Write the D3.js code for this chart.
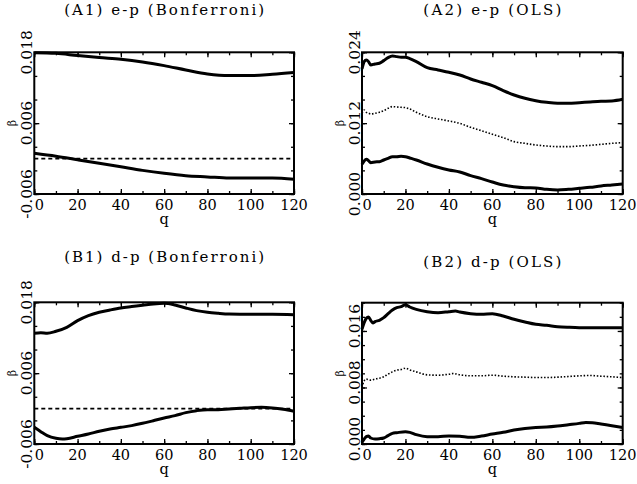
<!DOCTYPE html>
<html>
<head>
<meta charset="utf-8">
<script src="https://cdn.jsdelivr.net/npm/d3@7"></script>
<style>
body { margin: 0; background: #fff; }
svg { display: block; }
text { font-family: "DejaVu Serif", "Liberation Serif", serif; fill: #000; }
</style>
</head>
<body>
<svg id="chart" width="637" height="484"></svg>
<script>
// x ticks, shared by all four panels
var xMajor = [0, 20, 40, 60, 80, 100, 120];

// (A1) e-p Bonferroni
var qA1 = [0, 10, 20, 30, 40, 50, 60, 70, 80, 90, 100, 110, 120];
var a1Upper = [0.01794, 0.01783, 0.01744, 0.0171, 0.01681, 0.01636, 0.01574, 0.01501, 0.01433, 0.01405, 0.01405, 0.01427, 0.01456];
var a1Lower = [0.0009, 0.0004, -0.0002, -0.0008, -0.0014, -0.0020, -0.0025, -0.0029, -0.0031, -0.0033, -0.0033, -0.0033, -0.0035];
var yMajorA1 = [-0.006, 0.006, 0.018];

// (A2) e-p OLS
var qA2 = [0, 1, 2, 3, 4, 6, 8, 10, 12, 14, 16, 18, 20, 22, 25, 30, 35, 40, 45, 50, 55, 60, 65, 70, 75, 80, 85, 90, 95, 100, 105, 110, 115, 120];
var a2Upper = [0.02118, 0.02242, 0.0227, 0.02242, 0.02185, 0.02202, 0.02214, 0.02259, 0.0231, 0.02338, 0.02327, 0.02315, 0.02315, 0.02293, 0.02242, 0.0214, 0.02101, 0.02062, 0.02016, 0.01948, 0.01892, 0.01835, 0.0175, 0.01677, 0.01621, 0.01581, 0.01553, 0.01536, 0.01536, 0.01547, 0.01559, 0.0157, 0.01576, 0.01604];
var a2Mid = [0.01367, 0.01423, 0.01384, 0.0137, 0.01355, 0.01367, 0.01384, 0.01412, 0.01451, 0.0148, 0.01474, 0.01468, 0.01463, 0.0144, 0.01384, 0.0131, 0.01271, 0.01237, 0.01197, 0.01129, 0.01073, 0.01011, 0.00954, 0.00887, 0.00858, 0.0083, 0.00813, 0.00802, 0.00802, 0.00813, 0.00824, 0.00841, 0.00858, 0.0087];
var a2Lower = [0.00503, 0.00559, 0.00587, 0.00565, 0.00531, 0.00542, 0.00548, 0.00576, 0.00604, 0.00632, 0.00632, 0.00638, 0.00632, 0.0061, 0.00576, 0.00508, 0.00452, 0.00407, 0.00373, 0.00311, 0.0026, 0.00203, 0.00152, 0.00124, 0.00107, 0.00102, 0.00079, 0.00068, 0.00079, 0.00096, 0.00113, 0.00136, 0.00152, 0.00169];
var yMajorA2 = [0, 0.012, 0.024];

// (B1) d-p Bonferroni
var qB1Up = [0, 3, 6, 10, 15, 20, 25, 30, 35, 40, 45, 50, 55, 60, 65, 70, 75, 80, 85, 90, 100, 110, 120];
var b1Upper = [0.01275, 0.01286, 0.01275, 0.01309, 0.01376, 0.01489, 0.01574, 0.01631, 0.0167, 0.01704, 0.01727, 0.01749, 0.01772, 0.01783, 0.01755, 0.01704, 0.01659, 0.01631, 0.01614, 0.01602, 0.01597, 0.01597, 0.01591];
var qB1Low = [0, 3, 6, 10, 13, 15, 20, 25, 30, 35, 40, 45, 50, 55, 60, 65, 70, 75, 80, 85, 90, 95, 100, 105, 110, 115, 120];
var b1Lower = [-0.00318, -0.00391, -0.00459, -0.00504, -0.00515, -0.0051, -0.0047, -0.00431, -0.00385, -0.00346, -0.00318, -0.00289, -0.0025, -0.00205, -0.0016, -0.0012, -0.00069, -0.00035, -0.00018, -0.00018, -0.00007, 0.00004, 0.00016, 0.00021, 0.0001, -0.00013, -0.00047];
var yMajorB1 = [-0.006, 0.006, 0.018];

// (B2) d-p OLS
var qB2Up = [0, 1, 2, 3, 4, 5, 6, 8, 10, 12, 14, 16, 18, 20, 22, 25, 30, 35, 40, 43, 45, 50, 55, 60, 65, 70, 75, 80, 85, 90, 95, 100, 110, 120];
var b2Upper = [0.01624, 0.01718, 0.01779, 0.01798, 0.01751, 0.01713, 0.01732, 0.01751, 0.01788, 0.01845, 0.01896, 0.01929, 0.01944, 0.01972, 0.01939, 0.01906, 0.01873, 0.01859, 0.01873, 0.01882, 0.01868, 0.01845, 0.01835, 0.01845, 0.01812, 0.01765, 0.01727, 0.01694, 0.0168, 0.01661, 0.01652, 0.01647, 0.01647, 0.01647];
var qB2Mid = [0, 1, 2, 4, 6, 8, 10, 12, 14, 16, 18, 20, 22, 25, 30, 35, 40, 42, 45, 50, 55, 60, 65, 70, 75, 80, 85, 90, 95, 100, 105, 110, 115, 120];
var b2Mid = [0.008, 0.00894, 0.00918, 0.00904, 0.00918, 0.00932, 0.00951, 0.00988, 0.01021, 0.01045, 0.01054, 0.01073, 0.01049, 0.01021, 0.00979, 0.00974, 0.00988, 0.00998, 0.00979, 0.00965, 0.00965, 0.00974, 0.0096, 0.00951, 0.00946, 0.00941, 0.00941, 0.00946, 0.00955, 0.00965, 0.00969, 0.0096, 0.00951, 0.00941];
var qB2Low = [0, 1, 2, 3, 4, 6, 8, 10, 12, 14, 16, 20, 22, 25, 30, 35, 40, 45, 50, 55, 60, 65, 70, 75, 80, 85, 90, 95, 100, 103, 106, 110, 115, 120];
var b2Lower = [0.00024, 0.00071, 0.00104, 0.00113, 0.00085, 0.00071, 0.00075, 0.00085, 0.00118, 0.00151, 0.0016, 0.00174, 0.00165, 0.00132, 0.00104, 0.00104, 0.00113, 0.00108, 0.00094, 0.00113, 0.00141, 0.00165, 0.00198, 0.00221, 0.00235, 0.0024, 0.00254, 0.00273, 0.00292, 0.00306, 0.00301, 0.00282, 0.00259, 0.00235];
var yMajorB2 = [0, 0.008, 0.016];

var fmt = d3.formatLocale({decimal: ".", thousands: ",", grouping: [3], currency: ["", ""], minus: "-"}).format(".3f");

var panels = [
    {title: "(A1) e-p (Bonferroni)", left: 34.3, right: 294, top: 52.3, bottom: 194, titleY: 15, titleW: 200,
     yDomain: [-0.006, 0.018], yStep: 0.004, yMajor: yMajorA1, labShift: 0,
     series: [[qA1, a1Upper, "solid"], [qA1, a1Lower, "solid"]]},
    {title: "(A2) e-p (OLS)", left: 362, right: 622.7, top: 52.3, bottom: 194, titleY: 15, titleW: 138,
     yDomain: [0, 0.024], yStep: 0.004, yMajor: yMajorA2, labShift: 0,
     series: [[qA2, a2Upper, "solid"], [qA2, a2Mid, "dot"], [qA2, a2Lower, "solid"]]},
    {title: "(B1) d-p (Bonferroni)", left: 34.3, right: 294, top: 302.3, bottom: 444, titleY: 262, titleW: 200,
     yDomain: [-0.006, 0.018], yStep: 0.004, yMajor: yMajorB1, labShift: 0,
     series: [[qB1Up, b1Upper, "solid"], [qB1Low, b1Lower, "solid"]]},
    {title: "(B2) d-p (OLS)", left: 362, right: 622.7, top: 302.7, bottom: 444, titleY: 267, titleW: 138,
     yDomain: [0, 0.020], yStep: 0.002, yMajor: yMajorB2, labShift: -5,
     series: [[qB2Up, b2Upper, "solid"], [qB2Mid, b2Mid, "dot"], [qB2Low, b2Lower, "solid"]]}
];

var svg = d3.select("#chart");

panels.forEach(function(p) {
    var x = d3.scaleLinear().domain([0, 120]).range([p.left, p.right]);
    var y = d3.scaleLinear().domain(p.yDomain).range([p.bottom, p.top]);
    var w = p.right - p.left, h = p.bottom - p.top;
    var g = svg.append("g");

    var xMinor = d3.range(0, 121, 10);
    var yMinor = d3.range(p.yDomain[0], p.yDomain[1] + p.yStep / 2, p.yStep);

    // inward ticks on all four sides
    var ax = [
        [d3.axisBottom(x).tickValues(xMinor).tickSize(-3), p.bottom, "x"],
        [d3.axisTop(x).tickValues(xMinor).tickSize(-3), p.top, "x"],
        [d3.axisBottom(x).tickValues(xMajor).tickSize(-5), p.bottom, "x"],
        [d3.axisTop(x).tickValues(xMajor).tickSize(-5), p.top, "x"],
        [d3.axisLeft(y).tickValues(yMinor).tickSize(-3), p.left, "y"],
        [d3.axisRight(y).tickValues(yMinor).tickSize(-3), p.right, "y"],
        [d3.axisLeft(y).tickValues(p.yMajor).tickSize(-5), p.left, "y"],
        [d3.axisRight(y).tickValues(p.yMajor).tickSize(-5), p.right, "y"]
    ];
    ax.forEach(function(a) {
        var ag = g.append("g")
            .attr("transform", a[2] == "x" ? "translate(0," + a[1] + ")" : "translate(" + a[1] + ",0)")
            .call(a[0].tickFormat(""));
        ag.select(".domain").remove();
        ag.selectAll("line").attr("stroke", "#000").attr("stroke-width", 1.3);
    });

    // zero reference line
    if (p.yDomain[0] <= 0) {
        g.append("line")
            .attr("x1", p.left).attr("x2", p.right)
            .attr("y1", y(0)).attr("y2", y(0))
            .attr("stroke", "#000").attr("stroke-width", 1.8)
            .attr("stroke-dasharray", "4,3");
    }

    var line = d3.line()
        .x(function(d) { return x(d[0]); })
        .y(function(d) { return y(d[1]); })
        .curve(d3.curveMonotoneX);

    p.series.forEach(function(s) {
        var pts = s[0].map(function(q, i) { return [q, s[1][i]]; });
        var path = g.append("path")
            .attr("d", line(pts))
            .attr("fill", "none")
            .attr("stroke", "#000");
        if (s[2] == "dot") {
            path.attr("stroke-width", 1.6).attr("stroke-dasharray", "1.5,1.8");
        } else {
            path.attr("stroke-width", 3).attr("stroke-linejoin", "round");
        }
    });

    // frame
    g.append("rect")
        .attr("x", p.left).attr("y", p.top)
        .attr("width", w).attr("height", h)
        .attr("fill", "none").attr("stroke", "#000").attr("stroke-width", 2);

    // x tick labels
    g.selectAll(".xl").data(xMajor).enter().append("text")
        .attr("x", function(d) { return x(d) + (d == 0 ? 5 : 0); })
        .attr("y", p.bottom + 16)
        .attr("text-anchor", "middle")
        .style("font-size", "14.5px")
        .text(function(d) { return d; });

    // y tick labels, rotated
    g.selectAll(".yl").data(p.yMajor).enter().append("text")
        .attr("transform", function(d) { return "translate(" + (p.left - 2.5) + "," + (y(d) + p.labShift) + ") rotate(-90)"; })
        .attr("text-anchor", "middle")
        .style("font-size", "15.5px")
        .text(function(d) { return fmt(d); });

    // axis titles
    g.append("text")
        .attr("x", (p.left + p.right) / 2)
        .attr("y", p.bottom + 29.5)
        .attr("text-anchor", "middle")
        .style("font-size", "14.5px")
        .text("q");

    g.append("text")
        .attr("transform", "translate(" + (p.left - 18.5) + "," + (p.top + h / 2) + ") rotate(-90)")
        .attr("text-anchor", "middle")
        .style("font-size", "11px")
        .text("β");

    g.append("text")
        .attr("x", (p.left + p.right) / 2)
        .attr("y", p.titleY)
        .attr("text-anchor", "middle")
        .attr("textLength", p.titleW)
        .attr("lengthAdjust", "spacing")
        .style("font-size", "15px")
        .text(p.title);
});
</script>
</body>
</html>
